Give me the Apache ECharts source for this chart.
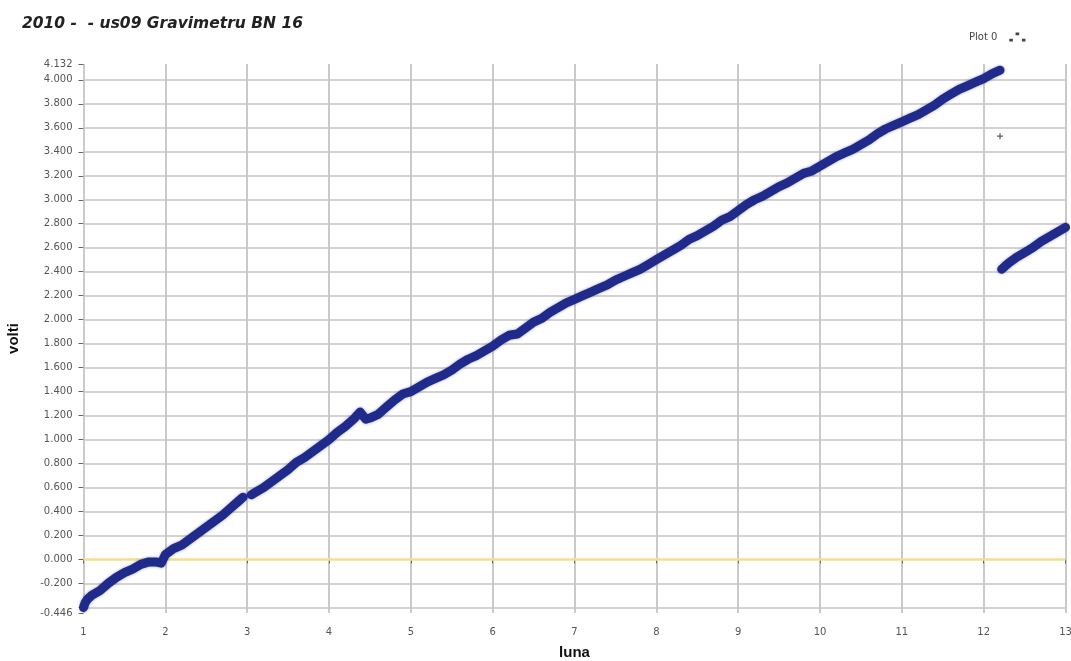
<!DOCTYPE html>
<html>
<head>
<meta charset="utf-8">
<script src="https://cdn.jsdelivr.net/npm/echarts@6/dist/echarts.min.js"></script>
<style>
  html, body { margin: 0; padding: 0; background: #fff; }
  #chart { width: 1071px; height: 661px; }
</style>
</head>
<body>
<div id="chart"></div>
<script>
// Gravimeter BN 16 drift readings (volts) against month of 2010
const segA = [
  [1.00, -0.40], [1.02, -0.36], [1.05, -0.33], [1.1, -0.30], [1.2, -0.26], [1.3, -0.20],
  [1.4, -0.15], [1.5, -0.11], [1.6, -0.08], [1.7, -0.04], [1.8, -0.02], [1.88, -0.02],
  [1.95, -0.03], [2.0, 0.04], [2.1, 0.09], [2.2, 0.12], [2.3, 0.17], [2.4, 0.22],
  [2.5, 0.27], [2.6, 0.32], [2.7, 0.37], [2.8, 0.43], [2.9, 0.49], [2.95, 0.52]
];
const segB = [
  [3.05, 0.54], [3.1, 0.56], [3.2, 0.60], [3.3, 0.65], [3.4, 0.70], [3.5, 0.75],
  [3.6, 0.81], [3.7, 0.85], [3.8, 0.90], [3.9, 0.95], [4.0, 1.00], [4.1, 1.06],
  [4.2, 1.11], [4.3, 1.17], [4.38, 1.23], [4.45, 1.17], [4.5, 1.18], [4.6, 1.21],
  [4.7, 1.27], [4.8, 1.33], [4.9, 1.38], [5.0, 1.40], [5.1, 1.44], [5.2, 1.48],
  [5.3, 1.51], [5.4, 1.54], [5.5, 1.58], [5.6, 1.63], [5.7, 1.67], [5.8, 1.70],
  [5.9, 1.74], [6.0, 1.78], [6.1, 1.83], [6.2, 1.87], [6.3, 1.88], [6.4, 1.93],
  [6.5, 1.98], [6.6, 2.01], [6.7, 2.06], [6.8, 2.10], [6.9, 2.14], [7.0, 2.17],
  [7.1, 2.20], [7.2, 2.23], [7.3, 2.26], [7.4, 2.29], [7.5, 2.33], [7.6, 2.36],
  [7.7, 2.39], [7.8, 2.42], [7.9, 2.46], [8.0, 2.50], [8.1, 2.54], [8.2, 2.58],
  [8.3, 2.62], [8.4, 2.67], [8.5, 2.70], [8.6, 2.74], [8.7, 2.78], [8.8, 2.83],
  [8.9, 2.86], [9.0, 2.91], [9.1, 2.96], [9.2, 3.00], [9.3, 3.03], [9.4, 3.07],
  [9.5, 3.11], [9.6, 3.14], [9.7, 3.18], [9.8, 3.22], [9.9, 3.24], [10.0, 3.28],
  [10.1, 3.32], [10.2, 3.36], [10.3, 3.39], [10.4, 3.42], [10.5, 3.46], [10.6, 3.50],
  [10.7, 3.55], [10.8, 3.59], [10.9, 3.62], [11.0, 3.65], [11.1, 3.68], [11.2, 3.71],
  [11.3, 3.75], [11.4, 3.79], [11.5, 3.84], [11.6, 3.88], [11.7, 3.92], [11.8, 3.95],
  [11.9, 3.98], [12.0, 4.01], [12.1, 4.05], [12.2, 4.08]
];
const segC = [
  [12.22, 2.42], [12.3, 2.47], [12.4, 2.52], [12.5, 2.56], [12.6, 2.60],
  [12.7, 2.65], [12.8, 2.69], [12.9, 2.73], [13.0, 2.77]
];
const outlier = [[12.2, 3.53]];

const yMin = -0.446;
const yMax = 4.132;
const yLabelValues = [-0.446, -0.2, 0, 0.2, 0.4, 0.6, 0.8, 1.0, 1.2, 1.4, 1.6, 1.8, 2.0,
  2.2, 2.4, 2.6, 2.8, 3.0, 3.2, 3.4, 3.6, 3.8, 4.0, 4.132];
const yTickValues = [-0.446, -0.4, -0.2, 0, 0.2, 0.4, 0.6, 0.8, 1.0, 1.2, 1.4, 1.6, 1.8, 2.0,
  2.2, 2.4, 2.6, 2.8, 3.0, 3.2, 3.4, 3.6, 3.8, 4.0, 4.132];
const yGridValues = [-0.4, -0.2, 0.2, 0.4, 0.6, 0.8, 1.0, 1.2, 1.4, 1.6, 1.8, 2.0,
  2.2, 2.4, 2.6, 2.8, 3.0, 3.2, 3.4, 3.6, 3.8, 4.0];
const xMin = 1, xMax = 13;

const lineColor = '#1f2a8a';
const labelFont = 'DejaVu Sans';

const bandStyle = {
  type: 'line',
  showSymbol: false,
  symbol: 'none',
  smooth: false,
  lineStyle: { color: lineColor, width: 9, cap: 'round', join: 'round',
    shadowColor: 'rgba(31,42,138,0.45)', shadowBlur: 3 },
  itemStyle: { color: lineColor },
  animation: false,
  z: 5
};

const chart = echarts.init(document.getElementById('chart'), null, { renderer: 'canvas' });
chart.setOption({
  backgroundColor: '#ffffff',
  animation: false,
  title: {
    text: '2010 -  - us09 Gravimetru BN 16',
    left: 17, top: 11,
    textStyle: { fontFamily: 'DejaVu Sans', fontSize: 15.5, fontWeight: 'bold',
      fontStyle: 'italic', color: '#222' }
  },
  legend: {
    data: [{ name: 'Plot 0', icon: 'path://M0,7h4v3h-4z M7,0h4v3h-4z M14,7h4v3h-4z' }],
    left: 964, top: 27,
    align: 'right',
    itemWidth: 30, itemHeight: 9, itemGap: 4,
    textStyle: { fontFamily: labelFont, fontSize: 10, color: '#444' },
    itemStyle: { color: '#444' }
  },
  grid: { left: 83.5, right: 5.5, top: 64, bottom: 48, containLabel: false,
    outerBoundsMode: 'none' },
  xAxis: {
    type: 'value', min: xMin, max: xMax, interval: 1,
    name: 'luna', nameLocation: 'middle', nameGap: 32,
    nameTextStyle: { fontFamily: 'Liberation Sans', fontSize: 15, fontWeight: 'bold', color: '#111' },
    axisLine: { show: false },
    axisTick: { show: true, length: 4, lineStyle: { color: '#666' } },
    axisLabel: { fontFamily: labelFont, fontSize: 10, color: '#555', margin: 14,
      showMinLabel: true, showMaxLabel: true },
    splitLine: { show: true, lineStyle: { color: '#b8b8b8', width: 1.5 } }
  },
  yAxis: {
    type: 'value', min: yMin, max: yMax,
    name: 'volti', nameLocation: 'middle', nameGap: 62, nameRotate: 90,
    nameTextStyle: { fontFamily: 'Liberation Sans', fontSize: 15, fontWeight: 'bold', color: '#111' },
    axisLine: { show: false },
    axisTick: { show: true, length: 5, customValues: yTickValues,
      lineStyle: { color: '#666' } },
    axisLabel: { fontFamily: labelFont, fontSize: 10, color: '#555', margin: 11,
      customValues: yLabelValues,
      formatter: v => v.toFixed(3) },
    splitLine: { show: false }
  },
  series: [
    Object.assign({ name: 'Plot 0', data: segA,
      markLine: {
        silent: true, symbol: 'none', animation: false,
        label: { show: false },
        lineStyle: { color: '#c4c4c4', width: 1.5, type: 'solid' },
        data: yGridValues.map(v => ({ yAxis: v }))
          .concat([{ yAxis: 0, lineStyle: { color: '#f5df8a', width: 2.5 } }])
      }
    }, bandStyle),
    Object.assign({ name: 'Plot 0', data: segB }, bandStyle),
    Object.assign({ name: 'Plot 0', data: segC }, bandStyle),
    {
      name: 'Plot 0', type: 'scatter', data: outlier,
      symbol: 'path://M2,0h1v2h2v1h-2v2h-1v-2h-2v-1h2z', symbolSize: 6,
      itemStyle: { color: '#333' }, z: 6, animation: false
    }
  ]
});
</script>
</body>
</html>
